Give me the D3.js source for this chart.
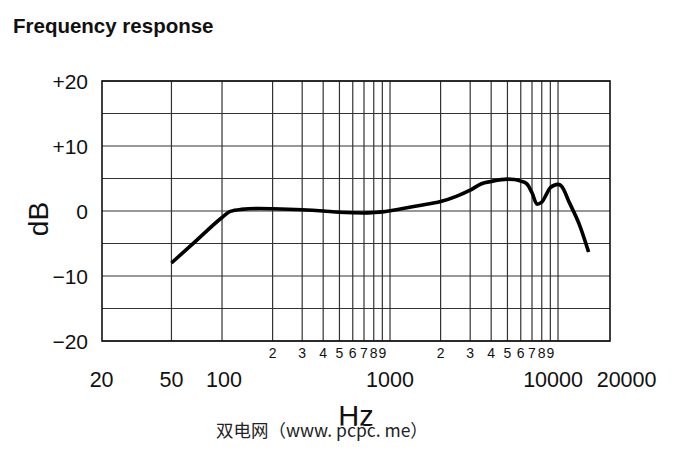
<!DOCTYPE html>
<html>
<head>
<meta charset="utf-8">
<script src="https://cdn.jsdelivr.net/npm/d3@7"></script>
<style>
  html, body { margin: 0; padding: 0; background: #fff; }
  svg { display: block; }
  text { font-family: "Liberation Sans", Arial, sans-serif; fill: #111; }
</style>
</head>
<body>
<svg id="chart" width="680" height="453"></svg>
<script>
// ---- data ----
const freqHz = [50, 70, 100, 112, 130, 165, 200, 300, 400, 500, 600, 700, 800, 900, 1000,
  1150, 1500, 2000, 2500, 3000, 3500, 4000, 5000, 5500, 6000, 6500, 7000, 7500, 8000,
  8500, 9000, 10000, 10500, 11700, 13400, 15200];
const responseDb = [-8.0, -4.6, -1.0, -0.05, 0.25, 0.38, 0.35, 0.2, 0.0, -0.2, -0.28, -0.3, -0.23, -0.13, 0.03,
  0.3, 0.85, 1.45, 2.3, 3.2, 4.2, 4.55, 4.9, 4.85, 4.6, 4.2, 2.8, 1.05, 1.35,
  2.5, 3.6, 4.1, 3.8, 1.25, -2.1, -6.3];
const yTickValues = [20, 10, 0, -10, -20];
const yTickLabels = ["+20", "+10", "0", "\u221210", "\u221220"];
const yGridValues = [20, 15, 10, 5, 0, -5, -10, -15, -20];
const xGridValues = [50, 100, 200, 300, 400, 500, 600, 700, 800, 900, 1000,
  2000, 3000, 4000, 5000, 6000, 7000, 8000, 9000, 10000];
const xMinorLabelValues = [200, 300, 400, 500, 600, 700, 800, 900, 2000, 3000, 4000, 5000, 6000, 7000, 8000, 9000];
const xMinorLabels = ["2", "3", "4", "5", "6", "7", "8", "9", "2", "3", "4", "5", "6", "7", "8", "9"];
const xMajorLabelValues = [20, 50, 100, 1000, 10000, 20000];
const xMajorLabels = ["20", "50", "100", "1000", "10000", "20000"];
const titleText = "Frequency response";
const xAxisTitle = "Hz";
const yAxisTitle = "dB";
const watermark = "双电网（www. pcpc. me）";

// ---- layout ----
const svg = d3.select("#chart");
const frame = { left: 102, right: 610, top: 81, bottom: 341 };

const x = d3.scaleLog().domain([20, 20000]).range([104.6, 608.6]);
const y = d3.scaleLinear().domain([-20, 20]).range([frame.bottom, frame.top]);

// title
svg.append("text").attr("x", 13).attr("y", 33)
  .attr("font-size", 20.5).attr("font-weight", "bold").text(titleText);

// grid
const g = svg.append("g");
g.selectAll("line.h").data(yGridValues).enter().append("line")
  .attr("x1", frame.left).attr("x2", frame.right)
  .attr("y1", d => y(d)).attr("y2", d => y(d))
  .attr("stroke", "#333").attr("stroke-width", 1.2);
g.selectAll("line.v").data(xGridValues).enter().append("line")
  .attr("x1", d => x(d)).attr("x2", d => x(d))
  .attr("y1", frame.top).attr("y2", frame.bottom)
  .attr("stroke", "#333").attr("stroke-width", 1.2);
g.append("rect").attr("x", frame.left).attr("y", frame.top)
  .attr("width", frame.right - frame.left).attr("height", frame.bottom - frame.top)
  .attr("fill", "none").attr("stroke", "#111").attr("stroke-width", 1.6);

// curve
const line = d3.line()
  .x(d => x(d[0])).y(d => y(d[1]))
  .curve(d3.curveMonotoneX);
svg.append("path")
  .datum(freqHz.map((f, i) => [f, responseDb[i]]))
  .attr("d", line)
  .attr("fill", "none").attr("stroke", "#000").attr("stroke-width", 3.6)
  .attr("stroke-linejoin", "round").attr("stroke-linecap", "butt");

// y tick labels
svg.selectAll("text.yt").data(yTickValues).enter().append("text")
  .attr("x", 88).attr("y", d => y(d) + 8)
  .attr("text-anchor", "end").attr("font-size", 21)
  .text((d, i) => yTickLabels[i]);

// x minor labels
svg.selectAll("text.xm").data(xMinorLabelValues).enter().append("text")
  .attr("x", d => x(d)).attr("y", 358)
  .attr("text-anchor", "middle").attr("font-size", 14)
  .text((d, i) => xMinorLabels[i]);

// x major labels
const majorNudge = v => v === 20 ? -3 : v === 100 ? 2 : v === 10000 ? -5 : v === 20000 ? 18 : 0;
svg.selectAll("text.xM").data(xMajorLabelValues).enter().append("text")
  .attr("x", d => x(d) + majorNudge(d)).attr("y", 387)
  .attr("text-anchor", "middle").attr("font-size", 21.5)
  .text((d, i) => xMajorLabels[i]);

// axis titles
svg.append("text").attr("x", 356).attr("y", 426)
  .attr("text-anchor", "middle").attr("font-size", 29).text(xAxisTitle);
svg.append("text").attr("transform", "translate(48,219) rotate(-90)")
  .attr("text-anchor", "middle").attr("font-size", 28).text(yAxisTitle);

// watermark (overlaps the "Hz" title, as in the reference)
svg.append("text").attr("x", 216).attr("y", 437)
  .attr("font-size", 17.5)
  .style("font-family", "'Noto Sans CJK SC', sans-serif")
  .style("fill", "#222")
  .attr("stroke", "#fff").attr("stroke-width", 3).attr("paint-order", "stroke")
  .text(watermark);
</script>
</body>
</html>
